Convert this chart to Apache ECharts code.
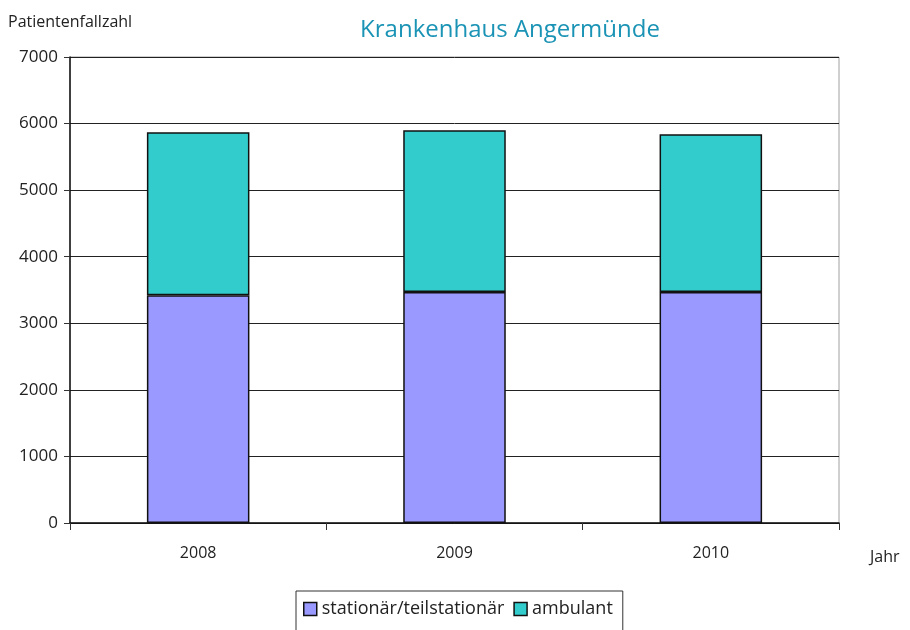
<!DOCTYPE html>
<html>
<head>
<meta charset="utf-8">
<script src="https://cdn.jsdelivr.net/npm/echarts@6/dist/echarts.min.js"></script>
<style>
  html, body { margin: 0; padding: 0; background: #fff; }
  #chart { width: 910px; height: 630px; }
</style>
</head>
<body>
<div id="chart"></div>
<script>
var years = ["2008", "2009", "2010"];
var stationaer = [3420, 3470, 3470];
var ambulant = [2450, 2430, 2370];

var myChart = echarts.init(document.getElementById("chart"));
var font = "'Open Sans', 'Noto Sans', sans-serif";

var option = {
  animation: false,
  textStyle: { fontFamily: font },
  title: {
    text: "Krankenhaus Angermünde",
    left: 505,
    textAlign: "center",
    top: 13,
    textStyle: { color: "#1a93b5", fontSize: 24, fontWeight: "normal", fontFamily: font }
  },
  legend: {
    left: 296,
    top: 591,
    padding: [9, 10, 20, 7],
    borderColor: "#333",
    borderWidth: 1,
    borderRadius: 0,
    icon: "rect",
    itemWidth: 13,
    itemHeight: 13,
    itemGap: 9,
    itemStyle: { borderColor: "#111", borderWidth: 1.5 },
    textStyle: { fontSize: 18, color: "#222", fontFamily: font },
    data: ["stationär/teilstationär", "ambulant"]
  },
  grid: {
    left: 70,
    right: 71,
    top: 57,
    bottom: 107,
    show: true,
    borderColor: "#a0a0a0",
    borderWidth: 1
  },
  xAxis: {
    type: "category",
    data: years,
    name: "Jahr",
    nameLocation: "end",
    nameGap: 31,
    nameTextStyle: { fontSize: 16, color: "#222", verticalAlign: "top", padding: [26, 0, 0, 0] },
    axisLine: { lineStyle: { color: "#111", width: 1.5 } },
    axisTick: { show: true, length: 7, lineStyle: { color: "#333" } },
    axisLabel: { fontSize: 16, color: "#222", margin: 22 }
  },
  yAxis: {
    type: "value",
    min: 0,
    max: 7000,
    interval: 1000,
    name: "Patientenfallzahl",
    nameLocation: "end",
    nameGap: 27,
    nameTextStyle: { fontSize: 16, color: "#222", align: "left", padding: [0, 0, 0, -62] },
    axisLine: { show: true, lineStyle: { color: "#111", width: 1.5 } },
    axisTick: { show: true, length: 6, lineStyle: { color: "#333" } },
    axisLabel: { fontSize: 17, color: "#222", margin: 12, formatter: function (v) { return String(v); } },
    splitLine: { lineStyle: { color: "#222", width: 1 } }
  },
  series: [
    {
      name: "stationär/teilstationär",
      type: "bar",
      stack: "total",
      barWidth: "40%",
      data: stationaer,
      itemStyle: { color: "#9999ff", borderColor: "#111", borderWidth: 1.5 }
    },
    {
      name: "ambulant",
      type: "bar",
      stack: "total",
      barWidth: "40%",
      data: ambulant,
      itemStyle: { color: "#33cccc", borderColor: "#111", borderWidth: 1.5 }
    }
  ]
};

myChart.setOption(option);
</script>
</body>
</html>
